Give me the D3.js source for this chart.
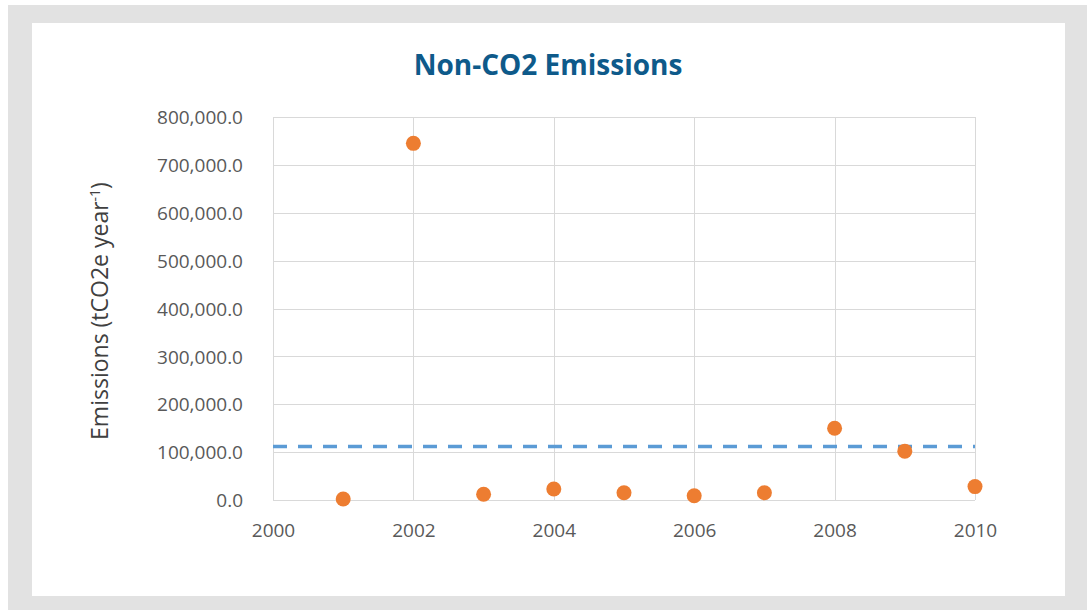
<!DOCTYPE html>
<html><head><meta charset="utf-8">
<script src="https://cdn.jsdelivr.net/npm/d3@7"></script>
<style>body{margin:0;background:#fff;}svg{display:block;}</style>
</head><body>
<svg id="chart" width="1087" height="610"></svg>
<script>
const years = [2001, 2002, 2003, 2004, 2005, 2006, 2007, 2008, 2009, 2010];
const emissions = [2000, 745000, 12000, 23000, 15000, 9000, 15000, 150000, 102000, 28000];
const meanValue = 111500;
const yTicks = [0, 100000, 200000, 300000, 400000, 500000, 600000, 700000, 800000];
const xTicks = [2000, 2002, 2004, 2006, 2008, 2010];
const titleText = "Non-CO2 Emissions";

const svg = d3.select("#chart");
// frame
svg.append("rect").attr("x", 8).attr("y", 5).attr("width", 1079).attr("height", 605).attr("fill", "#e2e2e2");
svg.append("rect").attr("x", 32).attr("y", 23).attr("width", 1033).attr("height", 573).attr("fill", "#ffffff");

const x = d3.scaleLinear().domain([2000, 2010]).range([273, 975]);
const y = d3.scaleLinear().domain([0, 800000]).range([500, 117]);

// grid
const g = svg.append("g");
g.selectAll("line.h").data(yTicks).join("line")
  .attr("x1", x(2000)).attr("x2", x(2010))
  .attr("y1", d => Math.round(y(d)) + 0.5).attr("y2", d => Math.round(y(d)) + 0.5)
  .attr("stroke", "#d9d9d9").attr("stroke-width", 1);
g.selectAll("line.v").data(xTicks).join("line")
  .attr("x1", d => Math.round(x(d)) + 0.5).attr("x2", d => Math.round(x(d)) + 0.5)
  .attr("y1", y(800000)).attr("y2", y(0))
  .attr("stroke", "#d9d9d9").attr("stroke-width", 1);

// axes (labels only)
const fmt = d3.format(",.1f");
const yAxis = d3.axisLeft(y).tickValues(yTicks).tickFormat(fmt).tickSize(0).tickPadding(0);
const ya = svg.append("g").attr("transform", `translate(${x(2000) - 30},0)`).call(yAxis);
ya.select(".domain").remove();
ya.selectAll("text").attr("fill", "#595959").attr("font-family", "Open Sans, sans-serif").attr("font-size", 19).attr("dy", "0.35em");

const xAxis = d3.axisBottom(x).tickValues(xTicks).tickFormat(d3.format("d")).tickSize(0).tickPadding(0);
const xa = svg.append("g").attr("transform", `translate(0,${y(0) + 23})`).call(xAxis);
xa.select(".domain").remove();
xa.selectAll("text").attr("fill", "#595959").attr("font-family", "Open Sans, sans-serif").attr("font-size", 19);

// mean dashed line
svg.append("line")
  .attr("x1", x(2000)).attr("x2", x(2010))
  .attr("y1", y(meanValue)).attr("y2", y(meanValue))
  .attr("stroke", "#5b9bd5").attr("stroke-width", 3.5).attr("stroke-dasharray", "14,11");

// points
svg.selectAll("circle.pt").data(years.map((yr, i) => ({yr, v: emissions[i]}))).join("circle")
  .attr("cx", d => x(d.yr)).attr("cy", d => y(d.v)).attr("r", 7.5).attr("fill", "#ed7d31");

// title
svg.append("text").attr("x", 548).attr("y", 75).attr("text-anchor", "middle")
  .attr("font-family", "Open Sans, sans-serif").attr("font-weight", "bold").attr("font-size", 28)
  .attr("fill", "#0e5a8a").text(titleText);

// y axis title
const yt = svg.append("text").attr("transform", "translate(108,311) rotate(-90)").attr("text-anchor", "middle")
  .attr("font-family", "Open Sans, sans-serif").attr("font-size", 23).attr("fill", "#404040");
yt.append("tspan").text("Emissions (tCO2e year");
yt.append("tspan").attr("font-size", 14).attr("dy", -8).text("-1");
yt.append("tspan").attr("dy", 8).text(")");
</script>
</body></html>
